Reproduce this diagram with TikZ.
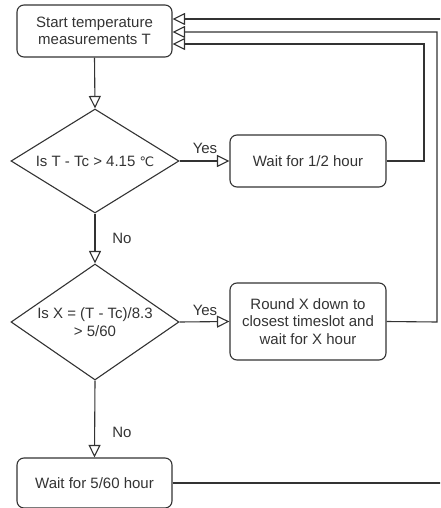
\documentclass[tikz,border=0pt]{standalone}
\usepackage{fontspec}
\setmainfont{Liberation Sans}
\newfontfamily\symfont{DejaVu Sans}
\usetikzlibrary{shapes.geometric,arrows.meta}
\definecolor{ink}{RGB}{51,51,51}
\tikzset{
  x=1pt, y=-1pt,
  every node/.style={text=ink, font=\fontsize{15}{17.5}\selectfont},
  box/.style={draw=ink, line width=1.1pt, rounded corners=7pt, align=center, inner sep=0pt},
  dia/.style={draw=ink, line width=1.1pt, diamond, inner sep=0pt},
  lbl/.style={inner sep=0pt},
  conn/.style={draw=ink, line width=1.1pt},
  arr/.style={conn, -{Triangle[open, length=12.5pt, width=12pt]}}
}
\begin{document}
\begin{tikzpicture}
\clip (0,0) rectangle (440,508);
\useasboundingbox (0,0) rectangle (440,508);
\node[box, minimum width=155pt, minimum height=52pt] (start) at (94.5,31) {Start temperature\\measurements T};
\node[dia, minimum width=168pt, minimum height=104pt] (d1) at (95,161) {};
\node[lbl] (d1t) at (95,161) {Is T - Tc > 4.15 {\symfont\fontsize{13}{15}\selectfont ℃}};
\node[box, minimum width=156pt, minimum height=52pt] (w1) at (308,161) {Wait for 1/2 hour};
\node[dia, minimum width=168pt, minimum height=116pt] (d2) at (95,322) {};
\node[lbl, align=center] (d2t) at (95,322) {Is X = (T - Tc)/8.3\\> 5/60};
\node[box, minimum width=156pt, minimum height=77pt] (rb) at (308,321.5) {Round X down to\\closest timeslot and\\wait for X hour};
\node[box, minimum width=155pt, minimum height=50pt] (w3) at (94.5,483) {Wait for 5/60 hour};
\node[lbl] (yes1) at (205,148) {Yes};
\node[lbl] (yes2) at (205,310) {Yes};
\node[lbl] (no1) at (122,238) {No};
\node[lbl] (no2) at (122,432) {No};
\coordinate (c1) at (424,161);
\coordinate (c2) at (437,322);
\coordinate (c3) at (446,483);
\draw[arr] (start.south) -- (d1.north);
\draw[arr] (d1.east) -- (w1.west);
\draw[arr] (d1.south) -- (d2.north);
\draw[arr] (d2.east) -- (rb.west);
\draw[arr] (d2.south) -- (w3.north);
\draw[arr] (w1.east) -- (c1) |- ([yshift=-13pt]start.east);
\draw[arr] (rb.east) -- (c2) |- ([yshift=-1pt]start.east);
\draw[arr] (w3.east) -- (c3) |- ([yshift=12pt]start.east);
\end{tikzpicture}
\end{document}
